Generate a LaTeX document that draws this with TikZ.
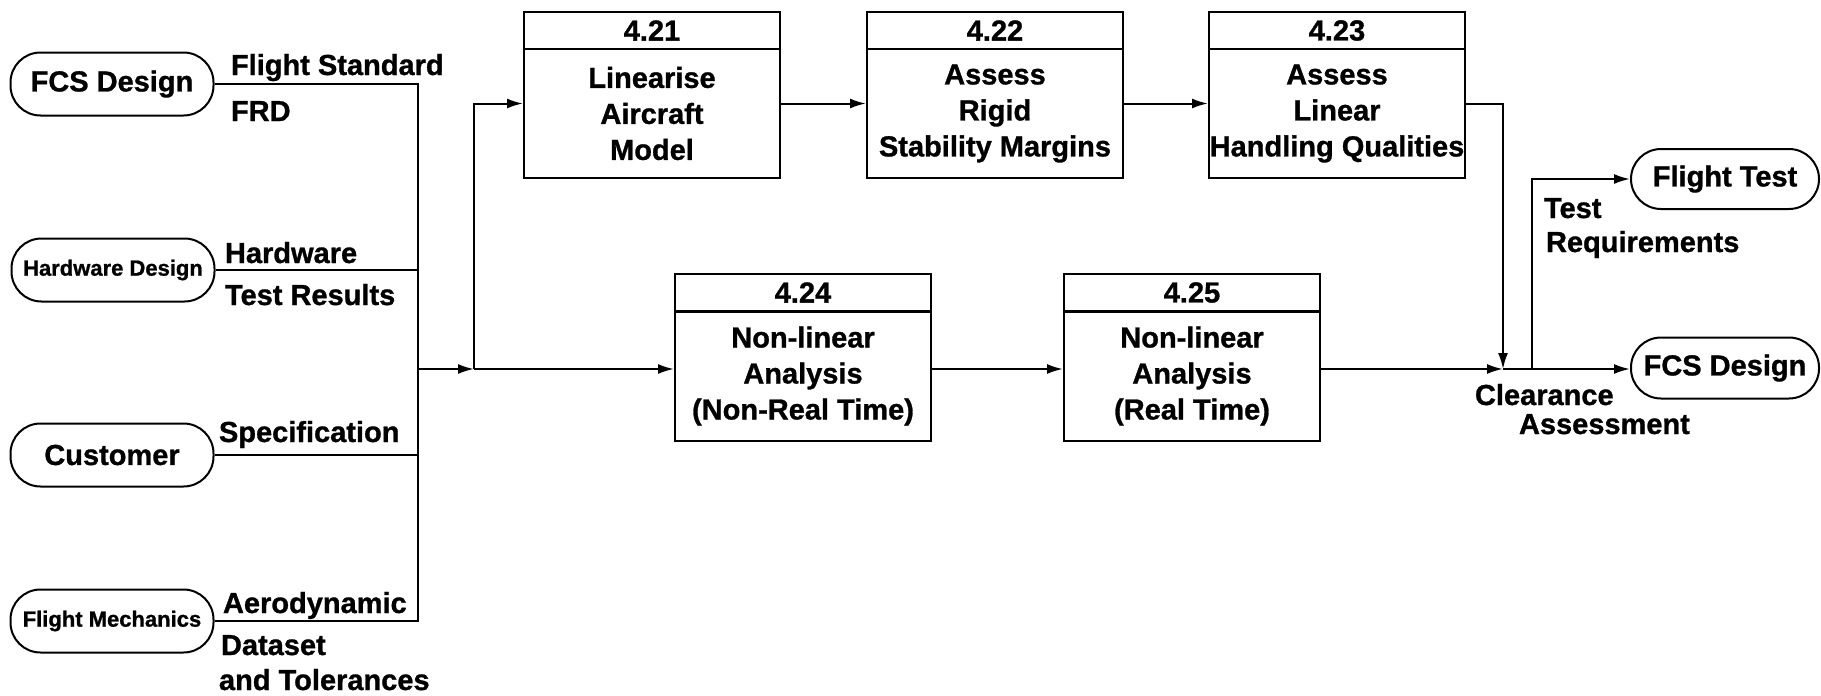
\documentclass[tikz,border=0pt]{standalone}
\usepackage{fontspec}
\setmainfont{Liberation Sans}[BoldFeatures={FakeBold=1}]
\usetikzlibrary{arrows.meta}
\begin{document}
\begin{tikzpicture}[x=1pt,y=-1pt,
  line width=2pt,
  every node/.style={font=\bfseries\fontsize{29}{36}\selectfont},
  small/.style={font=\bfseries\fontsize{22}{26}\selectfont},
  term/.style={draw, rounded corners=30pt, minimum width=203pt, minimum height=63pt, inner sep=0pt},
  hdr/.style={draw, minimum width=256pt, minimum height=37pt, inner sep=0pt},
  body/.style={draw, minimum width=256pt, minimum height=129pt, inner sep=0pt, align=center},
  flow/.style={anchor=base west, inner sep=0pt},
  arr/.style={-{Latex[length=16pt,width=10pt]}},
]
\useasboundingbox (0,0) rectangle (1821,696);

% terminators
\node[term] (fcs) at (112,84) {FCS Design};
\node[term, small] (hw) at (113,270) {Hardware Design};
\node[term] (cust) at (112,455) {Customer};
\node[term, small] (fm) at (112,621) {Flight Mechanics};
\node[term, minimum width=188pt, minimum height=60pt] (ft) at (1725,179) {Flight Test};
\node[term, minimum width=188pt, minimum height=61pt] (fcso) at (1725,368) {FCS Design};

% process boxes
\node[hdr] (h21) at (652,30.5) {4.21};
\node[body] (b21) at (652,113.5) {Linearise\\Aircraft\\Model};
\node[hdr] (h22) at (995,30.5) {4.22};
\node[body] (b22) at (995,113.5) {Assess\\Rigid\\Stability Margins};
\node[hdr] (h23) at (1337,30.5) {4.23};
\node[body] (b23) at (1337,113.5) {Assess\\Linear\\Handling Qualities};
\node[hdr] (h24) at (803,292.5) {4.24};
\node[body] (b24) at (803,376) {Non-linear\\Analysis\\(Non-Real Time)};
\node[hdr] (h25) at (1192,292.5) {4.25};
\node[body] (b25) at (1192,376) {Non-linear\\Analysis\\(Real Time)};

% connectors
\coordinate (jn) at (418,369);
\coordinate (sp) at (474,369);
\coordinate (ca) at (1503,369);
\coordinate (tr) at (1532,369);
\draw (fcs.east) -| (jn);
\draw (hw.east) -| (jn);
\draw (cust.east) -| (jn);
\draw (fm.east) -| (jn);
\draw[arr] (jn) -- (sp);
\draw[arr] (sp) |- ([yshift=10pt]b21.west);
\draw[arr] (sp) -- (sp -| b24.west);
\draw[arr] ([yshift=10pt]b21.east) -- ([yshift=10pt]b22.west);
\draw[arr] ([yshift=10pt]b22.east) -- ([yshift=10pt]b23.west);
\draw[arr] ([yshift=7pt]b24.east) -- ([yshift=7pt]b25.west);
\draw[arr] ([yshift=10pt]b23.east) -| (ca);
\draw[arr] ([yshift=7pt]b25.east) -- (ca);
\draw[arr] (ca) -- (ca -| fcso.west);
\draw[arr] (tr) |- (ft.west);

% flow labels
\node[flow] (l1) at (230,75) {Flight Standard};
\node[flow] (l2) at (230,121) {FRD};
\node[flow] (l3) at (224,263) {Hardware};
\node[flow] (l4) at (224,305) {Test Results};
\node[flow] (l5) at (218,442) {Specification};
\node[flow] (l6) at (222,613) {Aerodynamic};
\node[flow] (l7) at (220,655) {Dataset};
\node[flow] (l8) at (218,690) {and Tolerances};
\node[flow] (l9) at (1543,218) {Test};
\node[flow] (l10) at (1545,252) {Requirements};
\node[flow] (l11) at (1474,405) {Clearance};
\node[flow] (l12) at (1518,434) {Assessment};
\end{tikzpicture}
\end{document}
